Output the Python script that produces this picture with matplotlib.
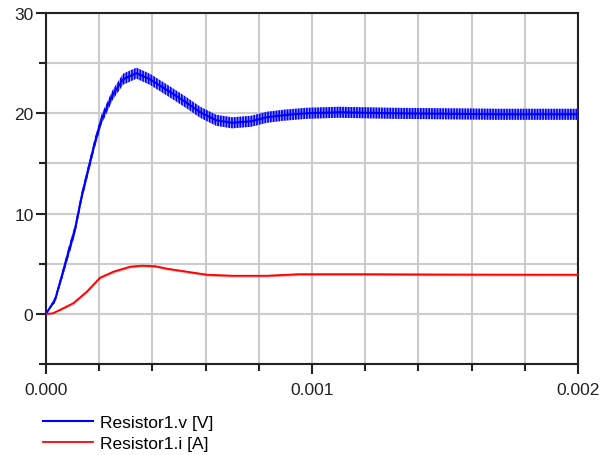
import matplotlib
matplotlib.use("Agg")
import matplotlib.pyplot as plt
from matplotlib.ticker import MultipleLocator, FormatStrFormatter
import numpy as np

plt.rcParams['font.family'] = ['Liberation Sans', 'DejaVu Sans']
plt.rcParams['hatch.linewidth'] = 1.2

# Resistor1.v (time in s, volts)
t_v = [0, 3.4e-5, 5.9e-5, 8.4e-5, 1.09e-4, 1.34e-4, 1.59e-4, 1.84e-4, 2.09e-4,
       2.5e-4, 2.9e-4, 3.4e-4, 3.9e-4, 4.5e-4, 5.2e-4, 5.8e-4, 6.4e-4, 7.0e-4,
       7.7e-4, 8.3e-4, 8.9e-4, 9.8e-4, 1.1e-3, 1.3e-3, 1.5e-3, 1.7e-3, 2.0e-3]
v_mean = [0, 1.4, 3.7, 6.1, 8.4, 11.7, 14.4, 17.1, 19.4,
          21.8, 23.4, 24.0, 23.4, 22.4, 21.2, 20.1, 19.3, 19.05,
          19.2, 19.6, 19.8, 20.0, 20.1, 20.0, 19.95, 19.9, 19.9]
# half height of the switching ripple band
v_ripple = [0, 0.3, 0.4, 0.5, 0.5, 0.5, 0.5, 0.5, 0.5,
            0.5, 0.55, 0.55, 0.55, 0.55, 0.55, 0.55, 0.55, 0.55,
            0.55, 0.55, 0.55, 0.55, 0.55, 0.55, 0.55, 0.55, 0.55]

# Resistor1.i (time in s, amps)
t_i = [0, 2.5e-5, 5.3e-5, 1.03e-4, 1.53e-4, 2.03e-4, 2.53e-4, 3.16e-4, 3.6e-4,
       4.1e-4, 4.55e-4, 5.3e-4, 6.05e-4, 7.0e-4, 8.3e-4, 9.5e-4, 1.2e-3, 1.5e-3, 2.0e-3]
i_mean = [0, 0.05, 0.4, 1.07, 2.2, 3.6, 4.2, 4.7, 4.8,
          4.75, 4.5, 4.2, 3.9, 3.8, 3.8, 3.95, 3.95, 3.92, 3.9]
i_ripple = [0, 0.05, 0.1, 0.12, 0.12, 0.12, 0.12, 0.12, 0.12,
            0.12, 0.12, 0.12, 0.12, 0.12, 0.12, 0.12, 0.12, 0.12, 0.12]

labels = ["Resistor1.v [V]", "Resistor1.i [A]"]

fig = plt.figure(figsize=(6.07, 4.56), dpi=100)
ax = fig.add_axes([46/607, 1-365/456, (578-46)/607, (365-14)/456])

vm = np.array(v_mean); vr = np.array(v_ripple)
im = np.array(i_mean); ir = np.array(i_ripple)

# ripple bands
ax.fill_between(t_v, vm - vr, vm + vr, facecolor=(0.3, 0.3, 1, 0.5),
                edgecolor='blue', hatch='||||||', linewidth=0.0, zorder=3)
lv, = ax.plot(t_v, v_mean, color='blue', lw=1.5, zorder=4, label=labels[0])
ax.fill_between(t_i, im - ir, im + ir, facecolor=(1, 0.2, 0.2, 0.5),
                edgecolor='red', linewidth=0.0, zorder=3)
li, = ax.plot(t_i, i_mean, color='red', lw=1.3, zorder=4, label=labels[1])

ax.set_xlim(0, 0.002)
ax.set_ylim(-5, 30)
ax.xaxis.set_major_locator(MultipleLocator(0.001))
ax.xaxis.set_minor_locator(MultipleLocator(0.0002))
ax.xaxis.set_major_formatter(FormatStrFormatter('%.3f'))
ax.yaxis.set_major_locator(MultipleLocator(10))
ax.yaxis.set_minor_locator(MultipleLocator(5))
ax.grid(True, which='both', color='#cccccc', lw=1.5, zorder=0)
ax.set_axisbelow(True)
ax.tick_params(which='major', direction='out', length=7, width=1.5,
               labelsize=12.5, colors='#222222', pad=2)
ax.tick_params(which='minor', direction='out', length=5, width=1.5, colors='#222222')
ax.tick_params(axis='x', which='major', pad=6)
for s in ax.spines.values():
    s.set_linewidth(1.5)
    s.set_color('#222222')

fig.legend(handles=[lv, li], loc='upper left', bbox_to_anchor=(43/607, 1-416/456),
           frameon=False, fontsize=12.5, handlelength=2.9, handletextpad=0.4,
           labelspacing=0.35, borderpad=0, borderaxespad=0)

fig.savefig("out.png", dpi=100)
